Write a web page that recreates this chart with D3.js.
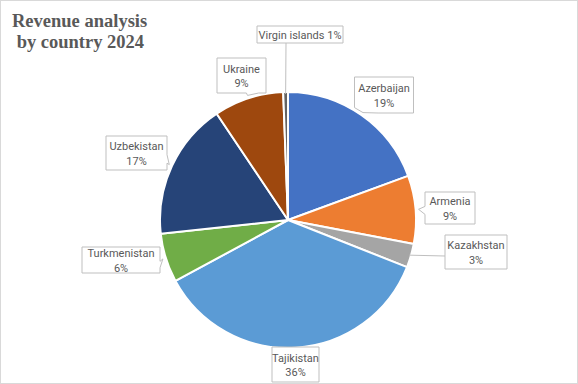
<!DOCTYPE html>
<html>
<head>
<meta charset="utf-8">
<script src="https://cdn.jsdelivr.net/npm/d3@7.9.0/dist/d3.min.js"></script>
<style>
  html, body { margin: 0; padding: 0; background: #fff; }
  svg { display: block; }
  .callout text { font-family: Roboto, "Noto Sans", sans-serif; font-size: 11px; fill: #595959; }
</style>
</head>
<body>
<div id="chart"></div>
<script>
// ---------------------------------------------------------
// Data
// ---------------------------------------------------------
const countries = ["Azerbaijan", "Armenia", "Kazakhstan", "Tajikistan", "Turkmenistan", "Uzbekistan", "Ukraine", "Virgin islands"];
const shares = [19.4, 8.6, 3.0, 36.1, 6.2, 17.3, 8.8, 0.6];
const sliceColors = ["#4472C4", "#ED7D31", "#A5A5A5", "#5B9BD5", "#70AD47", "#264478", "#9E480E", "#636363"];
const titleLines = ["Revenue analysis", " by country 2024"];

// callout boxes: offset of box centre from pie centre, box size, pointer side
const callouts = [
  { dx: 96, dy: -125, w: 59, h: 36, tip: "bottom-left" },
  { dx: 162, dy: -12, w: 50, h: 32, tip: "left" },
  { dx: 188, dy: 32, w: 62, h: 34, tip: "line-left" },
  { dx: 7.5, dy: 144.5, w: 47, h: 35, tip: "none" },
  { dx: -167, dy: 40, w: 78, h: 26, tip: "right" },
  { dx: -151.5, dy: -67, w: 61, h: 34, tip: "right" },
  { dx: -46.5, dy: -144.5, w: 49, h: 35, tip: "bottom" },
  { dx: 12, dy: -185.5, w: 86, h: 17, tip: "line-bottom", oneLine: true }
];

const width = 578, height = 384;
const cx = 288, cy = 220, radius = 128;

const svg = d3.select("#chart").append("svg")
  .attr("width", width)
  .attr("height", height);

svg.append("rect")
  .attr("x", 0.5).attr("y", 0.5)
  .attr("width", width - 1).attr("height", height - 1)
  .attr("fill", "#fff")
  .attr("stroke", "#d9d9d9");

// title
svg.append("text")
  .attr("x", 12)
  .attr("y", 27)
  .attr("font-family", "'Liberation Serif', 'Times New Roman', serif")
  .attr("font-weight", "bold")
  .attr("font-size", 18.5)
  .attr("fill", "#595959")
  .attr("xml:space", "preserve")
  .selectAll("tspan")
  .data(titleLines)
  .join("tspan")
  .attr("x", 12)
  .attr("dy", (d, i) => i ? 21 : 0)
  .text(d => d);

// ---------------------------------------------------------
// Pie
// ---------------------------------------------------------
const data = countries.map((name, i) => ({ name, value: shares[i], color: sliceColors[i], lay: callouts[i] }));
const total = d3.sum(shares);

const pie = d3.pie().value(d => d.value).sort(null);
const arc = d3.arc().innerRadius(0).outerRadius(radius);
const arcs = pie(data);

const g = svg.append("g").attr("transform", `translate(${cx},${cy})`);

g.selectAll("path.slice")
  .data(arcs)
  .join("path")
  .attr("class", "slice")
  .attr("d", arc)
  .attr("fill", d => d.data.color)
  .attr("stroke", "#fff")
  .attr("stroke-width", 2)
  .attr("stroke-linejoin", "round");

// ---------------------------------------------------------
// Callout labels
// ---------------------------------------------------------
function edgePoint(d, r) {
  const a = (d.startAngle + d.endAngle) / 2;
  return [Math.sin(a) * r, -Math.cos(a) * r];
}

function calloutPath(d) {
  const L = d.data.lay;
  const x0 = L.dx - L.w / 2, x1 = L.dx + L.w / 2;
  const y0 = L.dy - L.h / 2, y1 = L.dy + L.h / 2;
  const [px, py] = edgePoint(d, radius + 3);
  if (L.tip === "left") {
    return `M${x0},${y0}H${x1}V${y1}H${x0}V${y0 + L.h * 0.7}L${px},${py}L${x0},${y0 + L.h * 0.45}Z`;
  }
  if (L.tip === "right") {
    return `M${x0},${y0}H${x1}V${y0 + L.h * 0.55}L${px},${py}L${x1},${y0 + L.h * 0.8}V${y1}H${x0}Z`;
  }
  if (L.tip === "bottom") {
    return `M${x0},${y0}H${x1}V${y1}H${x0 + L.w * 0.85}L${px},${py}L${x0 + L.w * 0.6},${y1}H${x0}Z`;
  }
  if (L.tip === "bottom-left") {
    return `M${x0},${y0}H${x1}V${y1}H${x0 + L.w * 0.4}L${px},${py}L${x0},${y0 + L.h * 0.85}Z`;
  }
  return `M${x0},${y0}H${x1}V${y1}H${x0}Z`;
}

const labels = g.selectAll("g.callout")
  .data(arcs)
  .join("g")
  .attr("class", "callout");

labels.filter(d => d.data.lay.tip.startsWith("line"))
  .append("line")
  .attr("x1", d => d.data.lay.tip === "line-left" ? d.data.lay.dx - d.data.lay.w / 2 : d.data.lay.dx - 14)
  .attr("y1", d => d.data.lay.tip === "line-left" ? d.data.lay.dy + 4 : d.data.lay.dy + d.data.lay.h / 2)
  .attr("x2", d => edgePoint(d, radius - 2)[0])
  .attr("y2", d => edgePoint(d, radius - 2)[1])
  .attr("stroke", "#bfbfbf")
  .attr("stroke-width", 1);

labels.append("path")
  .attr("d", calloutPath)
  .attr("fill", "#fff")
  .attr("stroke", "#bfbfbf")
  .attr("stroke-width", 1);

const pct = d => Math.round(d.data.value / total * 100) + "%";

labels.append("text")
  .attr("text-anchor", "middle")
  .selectAll("tspan")
  .data(d => d.data.lay.oneLine
    ? [{ t: d.data.name + " " + pct(d), x: d.data.lay.dx, y: d.data.lay.dy + 4 }]
    : [{ t: d.data.name, x: d.data.lay.dx, y: d.data.lay.dy - 3 },
       { t: pct(d), x: d.data.lay.dx, y: d.data.lay.dy + 11.5 }])
  .join("tspan")
  .attr("x", t => t.x)
  .attr("y", t => t.y)
  .text(t => t.t);
</script>
</body>
</html>
